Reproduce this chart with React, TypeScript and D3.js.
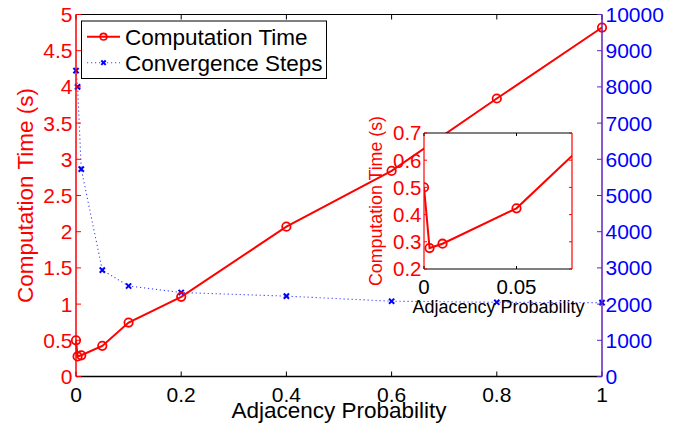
import React from "react";
import * as d3 from "d3";

const probs = [0, 0.003, 0.01, 0.05, 0.1, 0.2, 0.4, 0.6, 0.8, 1];
const compTime = [0.5, 0.277, 0.293, 0.423, 0.745, 1.1, 2.07, 2.84, 3.84, 4.82];
const convSteps = [8450, 8000, 5730, 2940, 2500, 2320, 2220, 2080, 2050, 2040];

const xTicks = [0, 0.2, 0.4, 0.6, 0.8, 1];
const yLeftTicks = [0, 0.5, 1, 1.5, 2, 2.5, 3, 3.5, 4, 4.5, 5];
const yRightTicks = [0, 1000, 2000, 3000, 4000, 5000, 6000, 7000, 8000, 9000, 10000];
const insetXTicks = [0, 0.05];
const insetYTicks = [0.2, 0.3, 0.4, 0.5, 0.6, 0.7];

const RED = "#ff0000";
const BLUE = "#0000ff";
const PURPLE = "#6322c0";
const FONT = "'Liberation Sans', Arial, Helvetica, sans-serif";

const W = 684;
const H = 431;
const M = { left: 76, right: 602, top: 14.5, bottom: 376.5 };
const IN = { left: 424, right: 572, top: 133, bottom: 269 };

const fmt = (v: number) => String(v);

export default function App() {
  const x = d3.scaleLinear().domain([0, 1]).range([M.left, M.right]);
  const yL = d3.scaleLinear().domain([0, 5]).range([M.bottom, M.top]);
  const yR = d3.scaleLinear().domain([0, 10000]).range([M.bottom, M.top]);
  const xi = d3.scaleLinear().domain([0, 0.08]).range([IN.left, IN.right]);
  const yi = d3.scaleLinear().domain([0.2, 0.7]).range([IN.bottom, IN.top]);

  const timePts = probs.map((p, i) => [p, compTime[i]] as [number, number]);
  const stepPts = probs.map((p, i) => [p, convSteps[i]] as [number, number]);

  const lineMain = d3.line<[number, number]>().x(d => x(d[0])).y(d => yL(d[1]))(timePts) || "";
  const lineSteps = d3.line<[number, number]>().x(d => x(d[0])).y(d => yR(d[1]))(stepPts) || "";
  const lineInset = d3.line<[number, number]>().x(d => xi(d[0])).y(d => yi(d[1]))(timePts) || "";

  const tl = 5;
  const xMark = (cx: number, cy: number, key: string | number, s = 2.6) => (
    <g key={key} stroke={BLUE} strokeWidth={2}>
      <line x1={cx - s} y1={cy - s} x2={cx + s} y2={cy + s} />
      <line x1={cx - s} y1={cy + s} x2={cx + s} y2={cy - s} />
    </g>
  );

  return (
    <svg width={W} height={H} style={{ position: "absolute", left: 0, top: 0, background: "#fff" }} fontFamily={FONT}>
      <defs>
        <clipPath id="insetClip">
          <rect x={IN.left} y={IN.top} width={IN.right - IN.left} height={IN.bottom - IN.top} />
        </clipPath>
      </defs>
      <rect x={0} y={0} width={W} height={H} fill="#fff" />

      {/* main series */}
      <path d={lineSteps} fill="none" stroke={BLUE} strokeWidth={1.1} strokeDasharray="1.2,2.8" opacity={0.75} />
      {stepPts.map((d, i) => xMark(x(d[0]), yR(d[1]), "s" + i))}
      <path d={lineMain} fill="none" stroke={RED} strokeWidth={2} />
      {timePts.map((d, i) => (
        <circle key={"c" + i} cx={x(d[0])} cy={yL(d[1])} r={4.2} fill="none" stroke={RED} strokeWidth={1.8} />
      ))}

      {/* main axes */}
      <line x1={M.left} x2={M.right} y1={M.top} y2={M.top} stroke="#000" strokeWidth={1.2} />
      <line x1={M.left} x2={M.right} y1={M.bottom} y2={M.bottom} stroke="#000" strokeWidth={1.5} />
      {xTicks.map(t => (
        <g key={"xt" + t}>
          <line x1={x(t)} x2={x(t)} y1={M.bottom} y2={M.bottom - tl} stroke="#000" strokeWidth={1} />
          <line x1={x(t)} x2={x(t)} y1={M.top} y2={M.top + tl} stroke="#000" strokeWidth={1} />
          <text x={x(t)} y={401.5} textAnchor="middle" fontSize={21} fill="#000">{fmt(t)}</text>
        </g>
      ))}
      <text x={(M.left + M.right) / 2} y={417.5} textAnchor="middle" fontSize={22.5} fill="#000">Adjacency Probability</text>

      <line x1={M.left} x2={M.left} y1={M.top} y2={M.bottom} stroke={RED} strokeWidth={1.5} />
      {yLeftTicks.map(t => (
        <g key={"yl" + t}>
          <line x1={M.left} x2={M.left + tl} y1={yL(t)} y2={yL(t)} stroke={RED} strokeWidth={1} />
          <text x={72.5} y={yL(t) + 7.5} textAnchor="end" fontSize={21} fill={RED}>{fmt(t)}</text>
        </g>
      ))}
      <text transform={`translate(32.5,${(M.top + M.bottom) / 2}) rotate(-90)`} textAnchor="middle" fontSize={22.5} fill={RED}>Computation Time (s)</text>

      <line x1={M.right} x2={M.right} y1={M.top} y2={M.bottom} stroke={PURPLE} strokeWidth={1.5} />
      {yRightTicks.map(t => (
        <g key={"yr" + t}>
          <line x1={M.right} x2={M.right - tl} y1={yR(t)} y2={yR(t)} stroke={PURPLE} strokeWidth={1} />
          <text x={605.5} y={yR(t) + 7.5} textAnchor="start" fontSize={21} fill={BLUE}>{fmt(t)}</text>
        </g>
      ))}

      {/* legend */}
      <g>
        <rect x={81.5} y={21} width={245} height={57.5} fill="#fff" stroke="#000" strokeWidth={1} />
        <line x1={87} x2={120} y1={36.7} y2={36.7} stroke={RED} strokeWidth={2} />
        <circle cx={103.5} cy={36.7} r={3.3} fill="none" stroke={RED} strokeWidth={1.6} />
        <text x={125} y={44.5} fontSize={22.5} fill="#000">Computation Time</text>
        <line x1={87} x2={120} y1={62.7} y2={62.7} stroke={BLUE} strokeWidth={1.1} strokeDasharray="1.2,2.8" opacity={0.75} />
        {xMark(103.5, 62.7, "lg", 2.2)}
        <text x={125} y={70.5} fontSize={22.5} fill="#000">Convergence Steps</text>
      </g>

      {/* inset */}
      <rect x={IN.left} y={IN.top} width={IN.right - IN.left} height={IN.bottom - IN.top} fill="#fff" />
      <g clipPath="url(#insetClip)">
        <path d={lineInset} fill="none" stroke={RED} strokeWidth={2} />
        {timePts.map((d, i) => (
          <circle key={"ic" + i} cx={xi(d[0])} cy={yi(d[1])} r={4.2} fill="none" stroke={RED} strokeWidth={1.8} />
        ))}
      </g>
      <line x1={IN.left} x2={IN.right} y1={IN.top} y2={IN.top} stroke="#000" strokeWidth={1} />
      <line x1={IN.left} x2={IN.right} y1={IN.bottom} y2={IN.bottom} stroke="#000" strokeWidth={1.2} />
      <line x1={IN.left} x2={IN.left} y1={IN.top} y2={IN.bottom} stroke={RED} strokeWidth={1.2} />
      <line x1={IN.right} x2={IN.right} y1={IN.top} y2={IN.bottom} stroke={RED} strokeWidth={1.2} />
      {insetXTicks.map(t => (
        <g key={"ixt" + t}>
          <line x1={xi(t)} x2={xi(t)} y1={IN.bottom} y2={IN.bottom - 3} stroke="#000" strokeWidth={1} />
          <line x1={xi(t)} x2={xi(t)} y1={IN.top} y2={IN.top + 3} stroke="#000" strokeWidth={1} />
          <text x={xi(t)} y={294.3} textAnchor="middle" fontSize={20.5} fill="#000">{fmt(t)}</text>
        </g>
      ))}
      {insetYTicks.map(t => (
        <g key={"iyt" + t}>
          <line x1={IN.left} x2={IN.left + 3} y1={yi(t)} y2={yi(t)} stroke={RED} strokeWidth={1} />
          <line x1={IN.right} x2={IN.right - 3} y1={yi(t)} y2={yi(t)} stroke={RED} strokeWidth={1} />
          <text x={421.5} y={yi(t) + 7.3} textAnchor="end" fontSize={20.5} fill={RED}>{fmt(t)}</text>
        </g>
      ))}
      <text x={(IN.left + IN.right) / 2 + 0.5} y={312.5} textAnchor="middle" fontSize={18} fill="#000">Adjacency Probability</text>
      <text transform={`translate(381.5,${(IN.top + IN.bottom) / 2}) rotate(-90)`} textAnchor="middle" fontSize={17.8} fill={RED}>Computation Time (s)</text>
    </svg>
  );
}
